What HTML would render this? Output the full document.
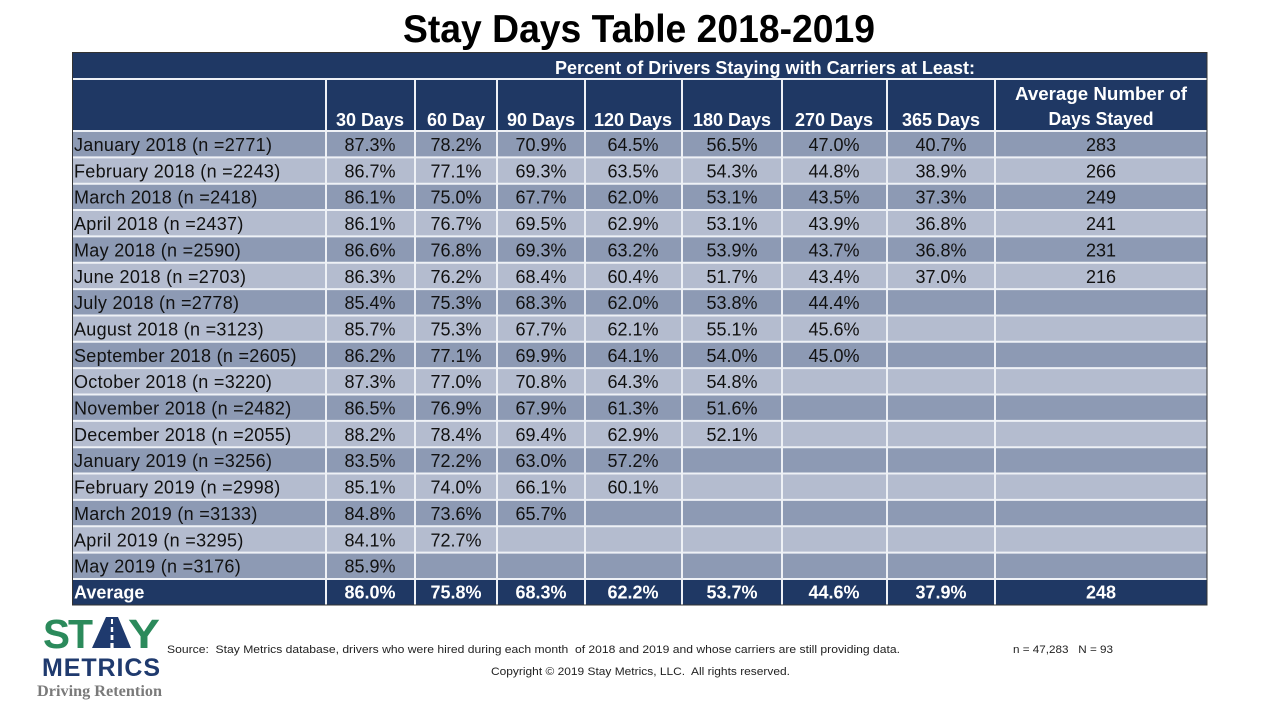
<!DOCTYPE html>
<html><head><meta charset="utf-8"><style>
html,body{margin:0;padding:0;background:#fff;}
svg{display:block;}
text{font-family:"Liberation Sans",Arial,sans-serif;}
.t{font-size:18px;fill:#111;}
.lab{letter-spacing:0.3px;}
.c{text-anchor:middle;}
.h{font-size:18px;font-weight:bold;fill:#fff;}
</style></head><body>
<svg width="1280" height="720" viewBox="0 0 1280 720" xmlns="http://www.w3.org/2000/svg">
<rect width="1280" height="720" fill="#fff"/>
<text x="403" y="42" font-size="39" font-weight="bold" fill="#000" textLength="472" lengthAdjust="spacingAndGlyphs">Stay Days Table 2018-2019</text>

<!-- header -->
<rect x="72" y="52" width="1135" height="79" fill="#1f3864"/>
<!-- rows -->
<g>
<rect x="72" y="131" width="1135" height="26.35" fill="#8d9ab4"/>
<rect x="72" y="157.35" width="1135" height="26.35" fill="#b4bccf"/>
<rect x="72" y="183.7" width="1135" height="26.35" fill="#8d9ab4"/>
<rect x="72" y="210.05" width="1135" height="26.35" fill="#b4bccf"/>
<rect x="72" y="236.4" width="1135" height="26.35" fill="#8d9ab4"/>
<rect x="72" y="262.75" width="1135" height="26.35" fill="#b4bccf"/>
<rect x="72" y="289.1" width="1135" height="26.35" fill="#8d9ab4"/>
<rect x="72" y="315.45" width="1135" height="26.35" fill="#b4bccf"/>
<rect x="72" y="341.8" width="1135" height="26.35" fill="#8d9ab4"/>
<rect x="72" y="368.15" width="1135" height="26.35" fill="#b4bccf"/>
<rect x="72" y="394.5" width="1135" height="26.35" fill="#8d9ab4"/>
<rect x="72" y="420.85" width="1135" height="26.35" fill="#b4bccf"/>
<rect x="72" y="447.2" width="1135" height="26.35" fill="#8d9ab4"/>
<rect x="72" y="473.55" width="1135" height="26.35" fill="#b4bccf"/>
<rect x="72" y="499.9" width="1135" height="26.35" fill="#8d9ab4"/>
<rect x="72" y="526.25" width="1135" height="26.35" fill="#b4bccf"/>
<rect x="72" y="552.6" width="1135" height="26.35" fill="#8d9ab4"/>
<rect x="72" y="578.95" width="1135" height="26.05" fill="#1f3864"/>
</g>
<!-- horizontal white lines -->
<g stroke="#eef1f6" stroke-width="2">
<line x1="72" y1="79" x2="1207" y2="79"/>
<line x1="72" y1="131" x2="1207" y2="131"/>
<line x1="72" y1="157.35" x2="1207" y2="157.35"/>
<line x1="72" y1="183.7" x2="1207" y2="183.7"/>
<line x1="72" y1="210.05" x2="1207" y2="210.05"/>
<line x1="72" y1="236.4" x2="1207" y2="236.4"/>
<line x1="72" y1="262.75" x2="1207" y2="262.75"/>
<line x1="72" y1="289.1" x2="1207" y2="289.1"/>
<line x1="72" y1="315.45" x2="1207" y2="315.45"/>
<line x1="72" y1="341.8" x2="1207" y2="341.8"/>
<line x1="72" y1="368.15" x2="1207" y2="368.15"/>
<line x1="72" y1="394.5" x2="1207" y2="394.5"/>
<line x1="72" y1="420.85" x2="1207" y2="420.85"/>
<line x1="72" y1="447.2" x2="1207" y2="447.2"/>
<line x1="72" y1="473.55" x2="1207" y2="473.55"/>
<line x1="72" y1="499.9" x2="1207" y2="499.9"/>
<line x1="72" y1="526.25" x2="1207" y2="526.25"/>
<line x1="72" y1="552.6" x2="1207" y2="552.6"/>
<line x1="72" y1="578.95" x2="1207" y2="578.95"/>
</g>
<!-- vertical white lines -->
<g stroke="#eef1f6" stroke-width="2">
<line x1="326" y1="79" x2="326" y2="605"/>
<line x1="415" y1="79" x2="415" y2="605"/>
<line x1="497" y1="79" x2="497" y2="605"/>
<line x1="585" y1="79" x2="585" y2="605"/>
<line x1="682" y1="79" x2="682" y2="605"/>
<line x1="782" y1="79" x2="782" y2="605"/>
<line x1="887" y1="79" x2="887" y2="605"/>
<line x1="995" y1="79" x2="995" y2="605"/>
</g>
<rect x="72.5" y="52.5" width="1134.5" height="552.5" fill="none" stroke="#333" stroke-width="1"/>

<!-- header text -->
<text class="h" x="555" y="74" textLength="420" lengthAdjust="spacingAndGlyphs">Percent of Drivers Staying with Carriers at Least:</text>
<g class="h c">
<text x="370" y="126">30 Days</text>
<text x="456" y="126">60 Day</text>
<text x="541" y="126">90 Days</text>
<text x="633" y="126">120 Days</text>
<text x="732" y="126">180 Days</text>
<text x="834" y="126">270 Days</text>
<text x="941" y="126">365 Days</text>
<text x="1101" y="100" textLength="172" lengthAdjust="spacingAndGlyphs">Average Number of</text>
<text x="1101" y="125" textLength="105" lengthAdjust="spacingAndGlyphs">Days Stayed</text>
</g>

<!-- labels -->
<g class="t lab">
<text x="74" y="151">January 2018 (n =2771)</text>
<text x="74" y="177.4">February 2018 (n =2243)</text>
<text x="74" y="203.7">March 2018 (n =2418)</text>
<text x="74" y="230">April 2018 (n =2437)</text>
<text x="74" y="256.4">May 2018 (n =2590)</text>
<text x="74" y="282.8">June 2018 (n =2703)</text>
<text x="74" y="309.1">July 2018 (n =2778)</text>
<text x="74" y="335.5">August 2018 (n =3123)</text>
<text x="74" y="361.8">September 2018 (n =2605)</text>
<text x="74" y="388.2">October 2018 (n =3220)</text>
<text x="74" y="414.5">November 2018 (n =2482)</text>
<text x="74" y="440.9">December 2018 (n =2055)</text>
<text x="74" y="467.2">January 2019 (n =3256)</text>
<text x="74" y="493.6">February 2019 (n =2998)</text>
<text x="74" y="519.9">March 2019 (n =3133)</text>
<text x="74" y="546.3">April 2019 (n =3295)</text>
<text x="74" y="572.6">May 2019 (n =3176)</text>
</g>

<!-- data -->
<g class="t c">
<text x="370" y="151">87.3%</text><text x="456" y="151">78.2%</text><text x="541" y="151">70.9%</text><text x="633" y="151">64.5%</text><text x="732" y="151">56.5%</text><text x="834" y="151">47.0%</text><text x="941" y="151">40.7%</text><text x="1101" y="151">283</text>
<text x="370" y="177.4">86.7%</text><text x="456" y="177.4">77.1%</text><text x="541" y="177.4">69.3%</text><text x="633" y="177.4">63.5%</text><text x="732" y="177.4">54.3%</text><text x="834" y="177.4">44.8%</text><text x="941" y="177.4">38.9%</text><text x="1101" y="177.4">266</text>
<text x="370" y="203.7">86.1%</text><text x="456" y="203.7">75.0%</text><text x="541" y="203.7">67.7%</text><text x="633" y="203.7">62.0%</text><text x="732" y="203.7">53.1%</text><text x="834" y="203.7">43.5%</text><text x="941" y="203.7">37.3%</text><text x="1101" y="203.7">249</text>
<text x="370" y="230">86.1%</text><text x="456" y="230">76.7%</text><text x="541" y="230">69.5%</text><text x="633" y="230">62.9%</text><text x="732" y="230">53.1%</text><text x="834" y="230">43.9%</text><text x="941" y="230">36.8%</text><text x="1101" y="230">241</text>
<text x="370" y="256.4">86.6%</text><text x="456" y="256.4">76.8%</text><text x="541" y="256.4">69.3%</text><text x="633" y="256.4">63.2%</text><text x="732" y="256.4">53.9%</text><text x="834" y="256.4">43.7%</text><text x="941" y="256.4">36.8%</text><text x="1101" y="256.4">231</text>
<text x="370" y="282.8">86.3%</text><text x="456" y="282.8">76.2%</text><text x="541" y="282.8">68.4%</text><text x="633" y="282.8">60.4%</text><text x="732" y="282.8">51.7%</text><text x="834" y="282.8">43.4%</text><text x="941" y="282.8">37.0%</text><text x="1101" y="282.8">216</text>
<text x="370" y="309.1">85.4%</text><text x="456" y="309.1">75.3%</text><text x="541" y="309.1">68.3%</text><text x="633" y="309.1">62.0%</text><text x="732" y="309.1">53.8%</text><text x="834" y="309.1">44.4%</text>
<text x="370" y="335.5">85.7%</text><text x="456" y="335.5">75.3%</text><text x="541" y="335.5">67.7%</text><text x="633" y="335.5">62.1%</text><text x="732" y="335.5">55.1%</text><text x="834" y="335.5">45.6%</text>
<text x="370" y="361.8">86.2%</text><text x="456" y="361.8">77.1%</text><text x="541" y="361.8">69.9%</text><text x="633" y="361.8">64.1%</text><text x="732" y="361.8">54.0%</text><text x="834" y="361.8">45.0%</text>
<text x="370" y="388.2">87.3%</text><text x="456" y="388.2">77.0%</text><text x="541" y="388.2">70.8%</text><text x="633" y="388.2">64.3%</text><text x="732" y="388.2">54.8%</text>
<text x="370" y="414.5">86.5%</text><text x="456" y="414.5">76.9%</text><text x="541" y="414.5">67.9%</text><text x="633" y="414.5">61.3%</text><text x="732" y="414.5">51.6%</text>
<text x="370" y="440.9">88.2%</text><text x="456" y="440.9">78.4%</text><text x="541" y="440.9">69.4%</text><text x="633" y="440.9">62.9%</text><text x="732" y="440.9">52.1%</text>
<text x="370" y="467.2">83.5%</text><text x="456" y="467.2">72.2%</text><text x="541" y="467.2">63.0%</text><text x="633" y="467.2">57.2%</text>
<text x="370" y="493.6">85.1%</text><text x="456" y="493.6">74.0%</text><text x="541" y="493.6">66.1%</text><text x="633" y="493.6">60.1%</text>
<text x="370" y="519.9">84.8%</text><text x="456" y="519.9">73.6%</text><text x="541" y="519.9">65.7%</text>
<text x="370" y="546.3">84.1%</text><text x="456" y="546.3">72.7%</text>
<text x="370" y="572.6">85.9%</text>
</g>

<!-- average row -->
<text class="h" x="74" y="598.5">Average</text>
<g class="h c">
<text x="370" y="598.5">86.0%</text><text x="456" y="598.5">75.8%</text><text x="541" y="598.5">68.3%</text><text x="633" y="598.5">62.2%</text><text x="732" y="598.5">53.7%</text><text x="834" y="598.5">44.6%</text><text x="941" y="598.5">37.9%</text><text x="1101" y="598.5">248</text>
</g>

<!-- logo -->
<g font-weight="bold">
<text x="43" y="648" font-size="41" fill="#2b8a5b" textLength="27" lengthAdjust="spacingAndGlyphs">S</text>
<text x="68" y="648" font-size="41" fill="#2b8a5b" textLength="25" lengthAdjust="spacingAndGlyphs">T</text>
<polygon points="92,648 106,617 118,617 131,648" fill="#1f3a6e"/>
<g fill="#fff">
<rect x="111" y="619" width="2" height="5"/>
<rect x="110.8" y="627" width="2.4" height="5"/>
<rect x="110.6" y="635" width="2.8" height="5"/>
<rect x="110.4" y="643" width="3.2" height="5"/>
</g>
<text x="128" y="648" font-size="41" fill="#2b8a5b" textLength="32" lengthAdjust="spacingAndGlyphs">Y</text>
<text x="42" y="676" font-size="25" fill="#1f3a6e" textLength="118" lengthAdjust="spacing">METRICS</text>
<text x="37" y="696" font-size="15.5" fill="#7a7a7a" style="font-family:'Liberation Serif',serif" textLength="125" lengthAdjust="spacingAndGlyphs">Driving Retention</text>
</g>

<!-- footer -->
<text x="167" y="653" font-size="11" fill="#222" textLength="733" lengthAdjust="spacingAndGlyphs">Source:&#160; Stay Metrics database, drivers who were hired during each month&#160; of 2018 and 2019 and whose carriers are still providing data.</text>
<text x="1013" y="653" font-size="11" fill="#222" textLength="100" lengthAdjust="spacingAndGlyphs">n = 47,283&#160;&#160; N = 93</text>
<text x="491" y="675" font-size="11" fill="#222" textLength="299" lengthAdjust="spacingAndGlyphs">Copyright © 2019 Stay Metrics, LLC.&#160; All rights reserved.</text>
</svg>
</body></html>
